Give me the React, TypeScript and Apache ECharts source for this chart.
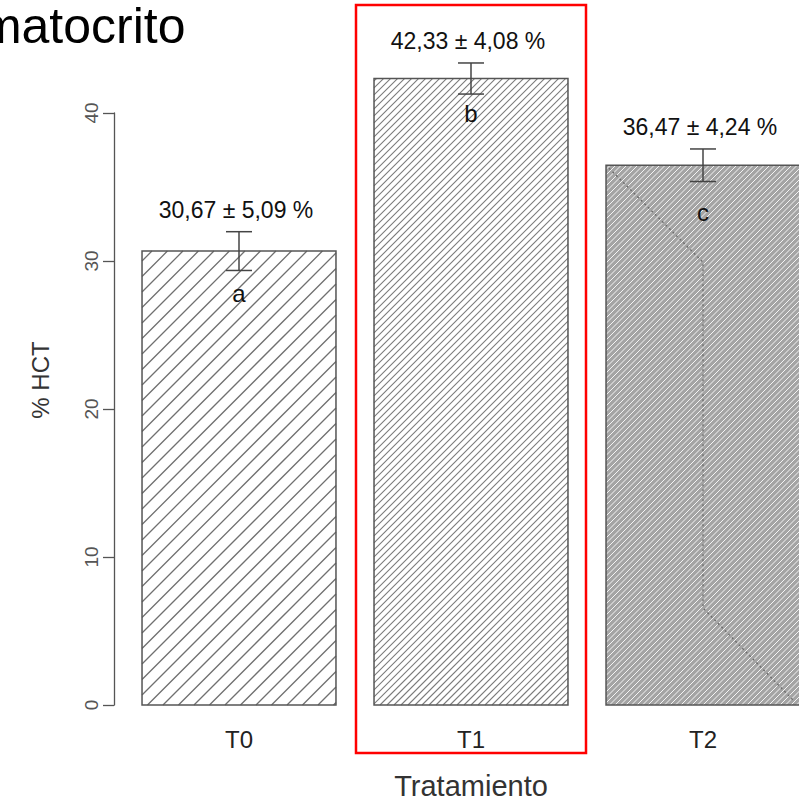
import React, { useEffect, useRef } from 'react';
import * as echarts from 'echarts';

const categories = ['T0', 'T1', 'T2'];
const means = [30.67, 42.33, 36.47];
const sds = [5.09, 4.08, 4.24];
const errHalf = [1.31, 1.05, 1.1];
const groupLetters = ['a', 'b', 'c'];
const letterPos = [27.8, 40.0, 33.3];
const yMin = 0;
const yMax = 40;
const yStep = 10;

const fmt = (v: number) => v.toFixed(2).replace('.', ',');
const valueLabels = means.map((m, i) => `${fmt(m)} ± ${fmt(sds[i])} %`);

const FONT = '"Liberation Sans", Arial, Helvetica, sans-serif';

const hatchStyles = [
  { fill: '#ffffff', line: '#707070', spacing: 15.5, width: 1.3 },
  { fill: '#ffffff', line: '#7c7c7c', spacing: 7, width: 1.1 },
  { fill: '#a4a4a4', line: '#f4f4f4', spacing: 5.5, width: 1 },
];

const renderItem = (params: any, api: any) => {
  const i = api.value(0);
  const mean = api.value(1);
  const err = api.value(2);
  const lp = api.value(3);
  const top = api.coord([i, mean]);
  const base = api.coord([i, 0]);
  const band = api.size([1, 0])[0];
  const bw = band * 0.836;
  const xc = top[0];
  const x0 = xc - bw / 2;
  const x1 = xc + bw / 2;
  const y0 = top[1];
  const y1 = base[1];
  const h = hatchStyles[i];
  const s = h.spacing;
  let d = '';
  const kmin = Math.ceil((x0 + y0) / s);
  const kmax = Math.floor((x1 + y1) / s);
  for (let k = kmin; k <= kmax; k++) {
    const c = k * s;
    const xa = Math.max(x0, c - y1);
    const xb = Math.min(x1, c - y0);
    if (xb <= xa) continue;
    d += `M${xa.toFixed(2)} ${(c - xa).toFixed(2)}L${xb.toFixed(2)} ${(c - xb).toFixed(2)}`;
  }
  const eTop = api.coord([i, mean + err])[1];
  const eBot = api.coord([i, mean - err])[1];
  const lpY = api.coord([i, lp])[1];
  const cap = 13;
  const children: any[] = [
    { type: 'rect', shape: { x: x0, y: y0, width: bw, height: y1 - y0 }, style: { fill: h.fill, stroke: null } },
    { type: 'path', shape: { pathData: d || 'M0 0' }, style: { fill: null, stroke: h.line, lineWidth: h.width } },
  ];
  if (i === 2) {
    children.push({
      type: 'polyline',
      shape: {
        points: [
          [x0 + 3, y0 + 3],
          [xc, y0 + (xc - x0)],
          [xc, y1 - (x1 - xc)],
          [x1 - 6, y1 - 4],
        ],
      },
      style: { fill: null, stroke: '#6a6a6a', lineWidth: 1.3, lineDash: [2, 3] },
    });
  }
  children.push(
    { type: 'rect', shape: { x: x0, y: y0, width: bw, height: y1 - y0 }, style: { fill: null, stroke: '#555555', lineWidth: 1.5 } },
    { type: 'line', shape: { x1: xc, y1: eTop, x2: xc, y2: eBot }, style: { stroke: '#444444', lineWidth: 1.5 } },
    { type: 'line', shape: { x1: xc - cap, y1: eTop, x2: xc + cap, y2: eTop }, style: { stroke: '#444444', lineWidth: 1.5 } },
    { type: 'line', shape: { x1: xc - cap, y1: eBot, x2: xc + cap, y2: eBot }, style: { stroke: '#444444', lineWidth: 1.5 } },
    {
      type: 'text',
      style: {
        text: valueLabels[i],
        x: xc - 3,
        y: eTop - 22,
        align: 'center',
        verticalAlign: 'middle',
        textAlign: 'center',
        textVerticalAlign: 'middle',
        font: `23px ${FONT}`,
        fill: '#111111',
      },
    },
    {
      type: 'text',
      style: {
        text: groupLetters[i],
        x: xc,
        y: lpY,
        align: 'center',
        verticalAlign: 'middle',
        textAlign: 'center',
        textVerticalAlign: 'middle',
        font: `24px ${FONT}`,
        fill: '#111111',
      },
    }
  );
  return { type: 'group', children };
};

export default function App() {
  const ref = useRef<HTMLDivElement>(null);
  useEffect(() => {
    if (!ref.current) return;
    const chart = echarts.init(ref.current, null, { renderer: 'svg' });
    const data = categories.map((_, i) => [i, means[i], errHalf[i], letterPos[i]]);
    chart.setOption({
      animation: false,
      backgroundColor: '#ffffff',
      grid: {
        left: 123,
        width: 696,
        top: 113,
        height: 592,
        containLabel: false,
        outerBoundsMode: 'none',
      },
      xAxis: {
        type: 'category',
        data: categories,
        axisLine: { show: false },
        axisTick: { show: false },
        axisLabel: { fontSize: 24, color: '#222222', margin: 22, fontFamily: FONT },
        name: 'Tratamiento',
        nameLocation: 'middle',
        nameGap: 66,
        nameTextStyle: { fontSize: 29, color: '#333333', fontFamily: FONT },
      },
      yAxis: {
        type: 'value',
        min: yMin,
        max: yMax,
        interval: yStep,
        offset: 9,
        axisLine: { show: true, lineStyle: { color: '#555555', width: 1.3 } },
        axisTick: { show: true, length: 11, lineStyle: { color: '#555555', width: 1.3 } },
        axisLabel: { rotate: 90, fontSize: 19, color: '#555555', margin: 13, fontFamily: FONT },
        splitLine: { show: false },
      },
      series: [
        {
          type: 'custom',
          renderItem,
          data,
          clip: false,
          encode: { x: 0, y: 1 },
        },
      ],
      graphic: [
        {
          type: 'text',
          x: -84,
          y: 26,
          style: {
            text: 'Hematocrito',
            font: `50px ${FONT}`,
            fill: '#000000',
            align: 'left',
            verticalAlign: 'middle',
            textAlign: 'left',
            textVerticalAlign: 'middle',
          },
        },
        {
          type: 'text',
          x: 40,
          y: 380,
          rotation: Math.PI / 2,
          style: {
            text: '% HCT',
            font: `24px ${FONT}`,
            fill: '#333333',
            align: 'center',
            verticalAlign: 'middle',
            textAlign: 'center',
            textVerticalAlign: 'middle',
          },
        },
        {
          type: 'rect',
          z: 100,
          shape: { x: 356, y: 5, width: 230, height: 748 },
          style: { fill: 'none', stroke: '#ff0000', lineWidth: 2.5 },
        },
      ],
    });
    return () => chart.dispose();
  }, []);
  return (
    <div
      ref={ref}
      style={{ position: 'absolute', left: 0, top: 0, width: 799, height: 802 }}
    />
  );
}
